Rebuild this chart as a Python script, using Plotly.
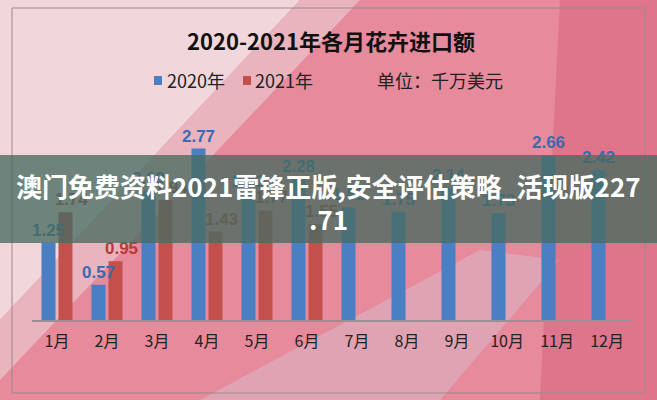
import plotly.graph_objects as go

months = ["1月", "2月", "3月", "4月", "5月", "6月", "7月", "8月", "9月", "10月", "11月", "12月"]
values_2020 = [1.25, 0.57, 2.09, 2.77, 2.03, 2.28, 1.82, 1.75, 2.14, 1.73, 2.66, 2.42]
months_2021 = ["1月", "2月", "3月", "4月", "5月", "6月"]
values_2021 = [1.74, 0.95, 1.94, 1.43, 1.77, 1.55]

series_names = ["2020年", "2021年"]
series_colors = ["#4a7fc4", "#c4504e"]
label_colors = ["#3b6aae", "#b83a36"]

title_text = "2020-2021年各月花卉进口额"
unit_text = "单位：千万美元"
banner_line1 = "澳门免费资料2021雷锋正版,安全评估策略_活现版227"
banner_line2 = ".71"

W, H = 657, 400
ML, MR, MT, MB = 32, 25, 122, 80
PW = W - ML - MR
PH = H - MT - MB


def px(x):
    return (x - ML) / PW


def py(y):
    return (H - MB - y) / PH


CJK = "Noto Sans CJK SC, Noto Sans, sans-serif"
NUM = "Liberation Sans, Arial, sans-serif"
BAR_W = 0.28
NO_LINE = dict(width=0)

fig = go.Figure()
# 2021 bars (drawn first so 2020 labels sit on top)
fig.add_trace(go.Bar(
    x=months_2021, y=values_2021, name=series_names[1],
    marker=dict(color=series_colors[1], line=NO_LINE), width=BAR_W, offset=0.03,
    showlegend=False, hoverinfo="x+y",
))
# 2020 bars with labels
fig.add_trace(go.Bar(
    x=months, y=values_2020, name=series_names[0],
    marker=dict(color=series_colors[0], line=NO_LINE), width=BAR_W, offset=-0.31,
    text=[f"{v:.2f}" for v in values_2020], textposition="outside",
    textfont=dict(color=label_colors[0], size=17, family=NUM, weight="bold"),
    constraintext="none", cliponaxis=False, showlegend=False,
))
# 2021 labels (transparent carrier bars, nudged right like the reference)
fig.add_trace(go.Bar(
    x=months_2021, y=values_2021, name=series_names[1] + " 标签",
    marker=dict(color="rgba(0,0,0,0)", line=NO_LINE), width=BAR_W, offset=0.15,
    text=[f"{v:.2f}" for v in values_2021], textposition="outside",
    textfont=dict(color=label_colors[1], size=17, family=NUM, weight="bold"),
    constraintext="none", cliponaxis=False, showlegend=False, hoverinfo="skip",
))

shapes = []
# background gradient approximation
shapes.append(dict(type="path", xref="paper", yref="paper", layer="below",
                   path=f"M {px(0)},{py(0)} L {px(300)},{py(0)} L {px(0)},{py(320)} Z",
                   fillcolor="#f1d6db", line=dict(width=0)))
shapes.append(dict(type="path", xref="paper", yref="paper", layer="below",
                   path=f"M {px(300)},{py(0)} L {px(360)},{py(0)} L {px(0)},{py(380)} L {px(0)},{py(320)} Z",
                   fillcolor="#eab4bf", line=dict(width=0)))
shapes.append(dict(type="path", xref="paper", yref="paper", layer="below",
                   path=f"M {px(200)},{py(400)} L {px(480)},{py(250)} L {px(560)},{py(260)} L {px(440)},{py(400)} Z",
                   fillcolor="rgba(220,180,195,0.6)", line=dict(width=0)))
shapes.append(dict(type="path", xref="paper", yref="paper", layer="below",
                   path=f"M {px(560)},{py(0)} L {px(657)},{py(0)} L {px(657)},{py(400)} L {px(540)},{py(400)} Z",
                   fillcolor="rgba(215,95,120,0.5)", line=dict(width=0)))
# border frame
shapes.append(dict(type="rect", xref="paper", yref="paper", layer="below",
                   x0=px(12), x1=px(645), y0=py(393), y1=py(8),
                   line=dict(color="#9a8a8e", width=1), fillcolor="rgba(0,0,0,0)"))
# legend squares
for sx, col in [(154, series_colors[0]), (243, series_colors[1])]:
    shapes.append(dict(type="rect", xref="paper", yref="paper", layer="above",
                       x0=px(sx), x1=px(sx + 8), y0=py(85), y1=py(76),
                       fillcolor=col, line=dict(width=0)))
# banner
shapes.append(dict(type="rect", xref="paper", yref="paper", layer="above",
                   x0=px(0), x1=px(657), y0=py(243), y1=py(155),
                   fillcolor="rgba(72,108,96,0.78)", line=dict(width=0)))


def ann(text, x, y, size, color, xanchor="center"):
    return dict(text=text, x=px(x), y=py(y), xref="paper", yref="paper",
                xanchor=xanchor, yanchor="middle", showarrow=False,
                font=dict(size=size, color=color, family=CJK))


annotations = [
    ann(f"<b>{title_text}</b>", 331, 40, 22, "#111111"),
    ann(series_names[0], 165, 80, 18, "#222222", "left"),
    ann(series_names[1], 253, 80, 18, "#222222", "left"),
    ann(unit_text, 440, 80, 18, "#222222"),
    ann(f"<b>{banner_line1}</b>", 328, 185, 26, "#ffffff"),
    ann(f"<b>{banner_line2}</b>", 328, 218, 26, "#ffffff"),
]

fig.update_layout(
    width=W, height=H,
    margin=dict(l=ML, r=MR, t=MT, b=MB, autoexpand=False),
    paper_bgcolor="#e68a9c",
    plot_bgcolor="rgba(0,0,0,0)",
    barmode="group",
    showlegend=False,
    shapes=shapes,
    annotations=annotations,
    xaxis=dict(categoryorder="array", categoryarray=months, showline=True,
               linecolor="#9a8f93", linewidth=1.5, ticks="", showgrid=False,
               tickfont=dict(size=16, color="#222222", family=CJK),
               ticklabelstandoff=6, automargin=False),
    yaxis=dict(range=[0, 3.2], visible=False, showgrid=False, automargin=False),
)

fig.write_html("out.html", config={"displayModeBar": False},
               post_script="document.body.style.margin='0';")
